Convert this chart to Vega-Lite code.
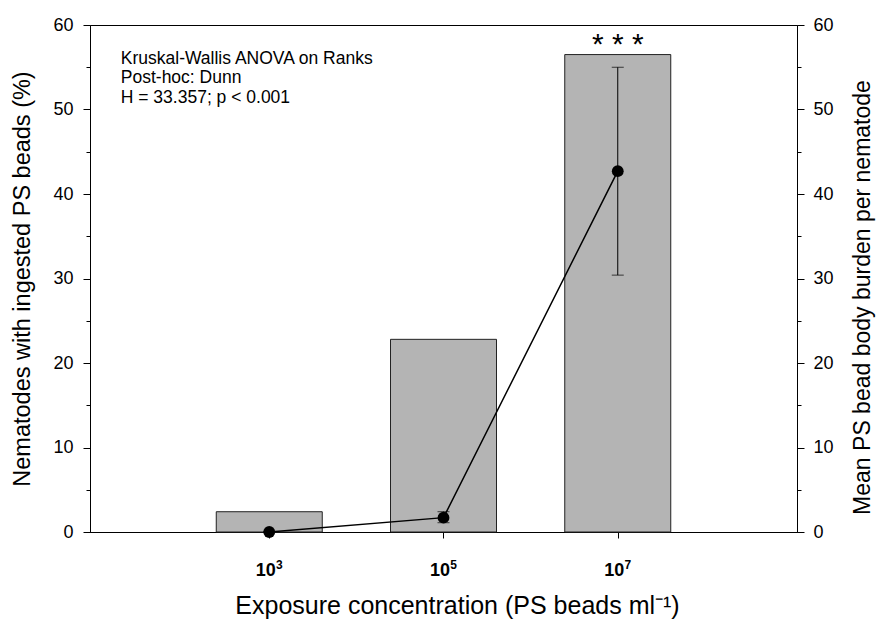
{
  "$schema": "https://vega.github.io/schema/vega-lite/v6.json",
  "width": 707,
  "height": 507,
  "autosize": "none",
  "padding": {"left": 90, "top": 25, "right": 81, "bottom": 87},
  "background": "white",
  "config": {
    "view": {"stroke": "black", "strokeWidth": 1},
    "font": "Liberation Sans",
    "axis": {"domainColor": "black", "tickColor": "black", "labelColor": "black", "titleColor": "black", "grid": false, "labelFont": "Liberation Sans", "titleFont": "Liberation Sans", "titleFontWeight": "normal"}
  },
  "datasets": {
    "main": [
      {"conc": "10³", "pos": 1, "pct": 2.4, "burden": 0.0, "lo": 0.0, "hi": 0.0},
      {"conc": "10⁵", "pos": 2, "pct": 22.8, "burden": 1.7, "lo": 1.1, "hi": 2.4},
      {"conc": "10⁷", "pos": 3, "pct": 56.5, "burden": 42.7, "lo": 30.4, "hi": 55.0}
    ],
    "stats": [
      {"pos": 0.148, "pct": 55.4, "label": "Kruskal-Wallis ANOVA on Ranks"},
      {"pos": 0.148, "pct": 53.1, "label": "Post-hoc: Dunn"},
      {"pos": 0.148, "pct": 50.8, "label": "H = 33.357; p < 0.001"}
    ],
    "sig": [
      {"pos": 3, "pct": 56.6, "label": "* * *"}
    ],
    "sup": [
      {"pos": 1, "pct": 0, "label": "3"},
      {"pos": 2, "pct": 0, "label": "5"},
      {"pos": 3, "pct": 0, "label": "7"}
    ]
  },
  "encoding": {
    "x": {
      "field": "pos", "type": "quantitative",
      "scale": {"domain": [0, 4], "nice": false, "zero": false},
      "axis": {
        "values": [1, 2, 3],
        "labelExpr": "'10'",
        "labelFontSize": 18, "labelFontWeight": "bold",
        "labelOffset": -4,
        "tickSize": 6, "labelPadding": 23,
        "title": "Exposure concentration (PS beads ml⁻¹)",
        "titleFontSize": 25, "titlePadding": 14,
        "titleX": 367
      }
    }
  },
  "layer": [
    {
      "encoding": {
        "y": {
          "field": "pct", "type": "quantitative",
          "scale": {"domain": [0, 60], "nice": false},
          "axis": {
            "orient": "left",
            "values": [0, 5, 10, 15, 20, 25, 30, 35, 40, 45, 50, 55, 60],
            "labelExpr": "datum.value % 10 == 0 ? datum.label : ''",
            "tickSize": {"condition": {"test": "datum.value % 10 == 0", "value": 7}, "value": 4},
            "labelFontSize": 18, "labelPadding": 10,
            "title": "Nematodes with ingested PS beads (%)",
            "titleFontSize": 23.5, "titlePadding": 18
          }
        }
      },
      "layer": [
        {
          "data": {"name": "main"},
          "mark": {"type": "bar", "size": 106, "fill": "#b4b4b4", "stroke": "#222222", "strokeWidth": 1}
        },
        {
          "data": {"name": "stats"},
          "mark": {"type": "text", "align": "left", "baseline": "alphabetic", "fontSize": 17.5, "color": "black"},
          "encoding": {"text": {"field": "label"}}
        },
        {
          "data": {"name": "sig"},
          "mark": {"type": "text", "align": "center", "baseline": "alphabetic", "fontSize": 30, "color": "black"},
          "encoding": {"text": {"field": "label"}}
        },
        {
          "data": {"name": "sup"},
          "mark": {"type": "text", "align": "center", "baseline": "middle", "fontSize": 12, "fontWeight": "bold", "color": "black", "dx": 10, "dy": 33},
          "encoding": {"text": {"field": "label"}}
        }
      ]
    },
    {
      "data": {"name": "main"},
      "layer": [
        {
          "mark": {"type": "line", "color": "black", "strokeWidth": 1.5},
          "encoding": {
            "y": {
              "field": "burden", "type": "quantitative",
              "scale": {"domain": [0, 60], "nice": false},
              "axis": {
                "orient": "right",
                "values": [0, 5, 10, 15, 20, 25, 30, 35, 40, 45, 50, 55, 60],
                "labelExpr": "datum.value % 10 == 0 ? datum.label : ''",
                "tickSize": {"condition": {"test": "datum.value % 10 == 0", "value": 7}, "value": 4},
                "labelFontSize": 18, "labelPadding": 9,
                "title": "Mean PS bead body burden per nematode",
                "titleAngle": 270,
                "titleBaseline": "top",
                "titleY": 272,
                "titleFontSize": 23, "titlePadding": 18
              }
            }
          }
        },
        {
          "mark": {"type": "errorbar", "ticks": {"size": 12, "color": "black"}, "rule": {"color": "black", "strokeWidth": 1}},
          "encoding": {
            "y": {"field": "lo", "type": "quantitative", "title": "Mean PS bead body burden per nematode"},
            "y2": {"field": "hi"}
          }
        },
        {
          "mark": {"type": "point", "filled": true, "color": "black", "opacity": 1, "size": 140},
          "encoding": {
            "y": {"field": "burden", "type": "quantitative", "title": "Mean PS bead body burden per nematode"}
          }
        }
      ]
    }
  ],
  "resolve": {"scale": {"y": "independent"}, "axis": {"y": "independent"}}
}
